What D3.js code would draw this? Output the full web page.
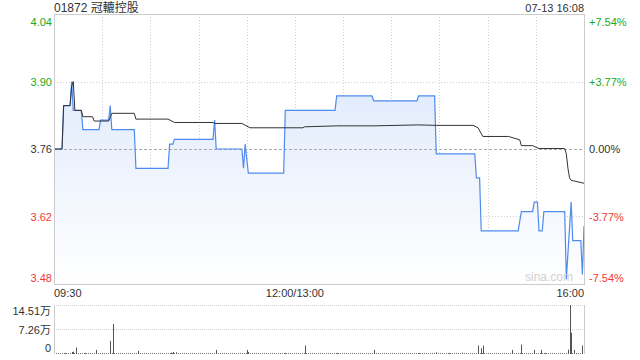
<!DOCTYPE html>
<html>
<head>
<meta charset="utf-8">
<script src="https://cdn.jsdelivr.net/npm/d3@7"></script>
<style>
  body { margin: 0; background: #fff; }
  svg { display: block; font-family: "Liberation Sans", Arial, "Noto Sans CJK SC", sans-serif; }
</style>
</head>
<body>
<div id="chart-area"></div>
<script>
// price points (time, price)
var priceTimes = ["09:30","09:35","09:36","09:40","09:41","09:42","09:47","09:48","09:58","09:59",
  "10:04","10:05","10:06","10:20","10:21","10:41","10:42","10:44","10:45","11:09",
  "11:10","11:11","11:27","11:28","11:29","11:31","11:53","11:54","13:25","13:26",
  "13:48","13:49","14:16","14:17","14:27","14:28","14:52","14:53","14:55","14:56",
  "15:19","15:21","15:28","15:29","15:31","15:32","15:34","15:35","15:48","15:49",
  "15:52","15:53","15:58","15:59","16:00"];
var priceValues = [3.76,3.76,3.85,3.85,3.90,3.84,3.84,3.80,3.80,3.82,
  3.82,3.85,3.80,3.80,3.72,3.72,3.77,3.77,3.78,3.78,
  3.82,3.76,3.76,3.72,3.77,3.71,3.71,3.84,3.84,3.87,
  3.87,3.86,3.86,3.87,3.87,3.75,3.75,3.70,3.70,3.59,
  3.59,3.63,3.63,3.65,3.65,3.59,3.59,3.63,3.63,3.49,
  3.65,3.57,3.57,3.50,3.60];

// average price line
var avgTimes = ["09:30","09:35","09:36","09:40","09:41","09:42","09:43","09:47","09:48","09:54",
  "09:55","10:04","10:06","10:20","10:21","10:41","10:45","11:09","11:10","11:27",
  "11:32","13:05","13:06","13:26","13:49","14:17","14:28","14:51","14:54","14:57",
  "15:13","15:20","15:21","15:28","15:32","15:48","15:49","15:50","15:51","15:52","16:00"];
var avgValues = [3.76,3.76,3.85,3.85,3.89,3.90,3.84,3.84,3.827,3.827,
  3.818,3.818,3.834,3.834,3.822,3.822,3.815,3.815,3.813,3.813,
  3.804,3.804,3.806,3.808,3.808,3.81,3.809,3.809,3.804,3.786,
  3.786,3.779,3.767,3.767,3.761,3.761,3.75,3.72,3.70,3.695,3.689];

// volume (万)
var volTimes = ["09:37","09:41","09:42","09:44","09:49","09:56","10:00","10:05","10:07","10:22",
  "10:43","10:44","10:46","11:11","11:30","11:31","11:54","13:06","13:26","13:49",
  "14:17","14:28","14:36","14:44","14:54","14:56","14:57","15:15","15:21","15:29",
  "15:33","15:36","15:50","15:51","15:52","15:54","15:55","15:59"];
var volValues = [0.3,0.6,0.7,1.9,0.3,1.2,0.3,3.9,8.9,0.9,
  0.4,0.6,0.5,1.2,1.2,0.6,0.3,2.5,0.3,1.2,
  0.3,0.5,0.3,0.4,2.5,1.7,2.5,1.2,2.8,1.2,
  1.2,0.3,1.3,14.51,6.3,1.2,0.3,2.5];

var priceTicks = [3.48, 3.62, 3.76, 3.90, 4.04];
var pctLabels = ["-7.54%", "-3.77%", "0.00%", "+3.77%", "+7.54%"];
var volTicks = [0, 7.26, 14.51];
var volLabels = ["0", "7.26万", "14.51万"];
var timeTicks = [0, 150, 330];
var timeLabels = ["09:30", "12:00/13:00", "16:00"];
var prevClose = 3.76;

var width = 640, height = 360;
var plotLeft = 54, plotRight = 584, plotTop = 14, plotBottom = 284;
var vTop = 305, vBottom = 354;

var green = "#22a822", red = "#f03a3a";

function idx(t) {
  var p = t.split(":");
  var mins = (+p[0]) * 60 + (+p[1]);
  return mins <= 720 ? mins - 570 : mins - 780 + 150;
}

var svg = d3.select("#chart-area")
  .append("svg")
    .attr("width", width)
    .attr("height", height);

var x = d3.scaleLinear().domain([0, 330]).range([plotLeft, plotRight]);
var y = d3.scaleLinear().domain([3.48, 4.04]).range([plotBottom, plotTop]);
var yv = d3.scaleLinear().domain([0, 14.51]).range([vBottom, vTop]);

var price = priceTimes.map(function(t, i) { return {m: idx(t), v: priceValues[i]}; });
var avg = avgTimes.map(function(t, i) { return {m: idx(t), v: avgValues[i]}; });

// gradient
var grad = svg.append("defs").append("linearGradient")
  .attr("id", "fillGrad")
  .attr("gradientUnits", "userSpaceOnUse")
  .attr("x1", 0).attr("y1", plotTop).attr("x2", 0).attr("y2", plotBottom);
grad.append("stop").attr("offset", "0%").attr("stop-color", "#d7e4fb");
grad.append("stop").attr("offset", "100%").attr("stop-color", "#ffffff");

// vertical grid
var vgrid = d3.range(30, 330, 30);
svg.selectAll(".vgrid").data(vgrid).enter().append("line")
  .attr("x1", function(d) { return Math.round(x(d)) + 0.5; })
  .attr("x2", function(d) { return Math.round(x(d)) + 0.5; })
  .attr("y1", plotTop).attr("y2", plotBottom)
  .attr("stroke", "#cfcfcf")
  .attr("stroke-dasharray", "1,2");

// horizontal grid
svg.selectAll(".hgrid").data([3.62, 3.90]).enter().append("line")
  .attr("x1", plotLeft).attr("x2", plotRight)
  .attr("y1", function(d) { return Math.round(y(d)) + 0.5; })
  .attr("y2", function(d) { return Math.round(y(d)) + 0.5; })
  .attr("stroke", "#cfcfcf")
  .attr("stroke-dasharray", "1,2");

// area + lines
svg.append("path")
  .datum(price)
  .attr("fill", "url(#fillGrad)")
  .attr("d", d3.area()
    .x(function(d) { return x(d.m); })
    .y0(plotBottom)
    .y1(function(d) { return y(d.v); }));

svg.append("line")
  .attr("x1", plotLeft).attr("x2", plotRight)
  .attr("y1", Math.round(y(prevClose)) + 0.5)
  .attr("y2", Math.round(y(prevClose)) + 0.5)
  .attr("stroke", "#aaaaaa")
  .attr("stroke-dasharray", "3,2");

svg.append("path")
  .datum(price)
  .attr("fill", "none")
  .attr("stroke", "#4f8bef")
  .attr("stroke-width", 1.2)
  .attr("d", d3.line().x(function(d) { return x(d.m); }).y(function(d) { return y(d.v); }));

svg.append("path")
  .datum(avg)
  .attr("fill", "none")
  .attr("stroke", "#333")
  .attr("stroke-width", 1)
  .attr("d", d3.line().x(function(d) { return x(d.m); }).y(function(d) { return y(d.v); }));

// frame
svg.append("rect")
  .attr("x", plotLeft + 0.5).attr("y", plotTop + 0.5)
  .attr("width", plotRight - plotLeft).attr("height", plotBottom - plotTop)
  .attr("fill", "none")
  .attr("stroke", "#cccccc");

// watermark
svg.append("text")
  .attr("x", 573).attr("y", 281)
  .attr("text-anchor", "end")
  .attr("font-size", "12px")
  .attr("fill", "#d0d0d0")
  .text("sina.com");

// left axis labels
var yAxisG = svg.append("g")
  .attr("transform", "translate(" + (plotLeft - 2) + ",0)")
  .call(d3.axisLeft(y).tickValues(priceTicks).tickSize(0).tickPadding(0)
    .tickFormat(d3.format(".2f")));
yAxisG.select(".domain").remove();
yAxisG.selectAll("text")
  .attr("font-size", "11px")
  .attr("font-family", "Liberation Sans, Arial, sans-serif")
  .attr("fill", function(d) { return d > prevClose ? green : d < prevClose ? red : "#333"; })
  .attr("dy", function(d) { return d === 4.04 ? "1.0em" : d === 3.48 ? "-0.25em" : "0.32em"; });

// right axis labels
var yAxisR = svg.append("g")
  .attr("transform", "translate(" + (plotRight + 5) + ",0)")
  .call(d3.axisRight(y).tickValues(priceTicks).tickSize(0).tickPadding(0)
    .tickFormat(function(d, i) { return pctLabels[i]; }));
yAxisR.select(".domain").remove();
yAxisR.selectAll("text")
  .attr("font-size", "11px")
  .attr("font-family", "Liberation Sans, Arial, sans-serif")
  .attr("fill", function(d) { return d > prevClose ? green : d < prevClose ? red : "#333"; })
  .attr("dy", function(d) { return d === 4.04 ? "1.0em" : d === 3.48 ? "-0.25em" : "0.32em"; });

// time axis labels
svg.selectAll(".tlabel").data(timeTicks).enter().append("text")
  .attr("x", function(d) { return x(d); })
  .attr("y", 297)
  .attr("text-anchor", function(d, i) { return i === 0 ? "start" : i === 2 ? "end" : "middle"; })
  .attr("font-size", "11px")
  .attr("fill", "#333")
  .text(function(d, i) { return timeLabels[i]; });

// title
svg.append("text")
  .attr("x", plotLeft).attr("y", 12)
  .attr("font-size", "12px")
  .attr("fill", "#333")
  .text("01872 冠轆控股");
svg.append("text")
  .attr("x", plotRight).attr("y", 12)
  .attr("text-anchor", "end")
  .attr("font-size", "11px")
  .attr("fill", "#333")
  .text("07-13 16:08");

// volume panel
svg.selectAll(".vgridv").data([14.51, 7.26]).enter().append("line")
  .attr("x1", plotLeft).attr("x2", plotRight)
  .attr("y1", function(d) { return Math.round(yv(d)) + 0.5; })
  .attr("y2", function(d) { return Math.round(yv(d)) + 0.5; })
  .attr("stroke", "#cfcfcf")
  .attr("stroke-dasharray", "1,1");
svg.append("line")
  .attr("x1", plotLeft).attr("x2", plotRight)
  .attr("y1", vBottom - 0.5).attr("y2", vBottom - 0.5)
  .attr("stroke", "#777")
  .attr("stroke-dasharray", "1,1");
svg.append("line")
  .attr("x1", plotLeft + 0.5).attr("x2", plotLeft + 0.5)
  .attr("y1", vTop).attr("y2", vBottom)
  .attr("stroke", "#cccccc");
svg.append("line")
  .attr("x1", plotRight + 0.5).attr("x2", plotRight + 0.5)
  .attr("y1", vTop).attr("y2", vBottom)
  .attr("stroke", "#cccccc");

svg.selectAll(".vbar").data(volTimes).enter().append("rect")
  .attr("x", function(t) { return Math.round(x(idx(t))); })
  .attr("width", 1)
  .attr("y", function(t, i) { return yv(volValues[i]); })
  .attr("height", function(t, i) { return vBottom - yv(volValues[i]); })
  .attr("fill", "#555");

var vAxis = svg.append("g")
  .attr("transform", "translate(" + (plotLeft - 3) + ",0)")
  .call(d3.axisLeft(yv).tickValues(volTicks).tickSize(0).tickPadding(0)
    .tickFormat(function(d, i) { return volLabels[i]; }));
vAxis.select(".domain").remove();
vAxis.selectAll("text")
  .attr("font-size", "11px")
  .attr("font-family", "Liberation Sans, Arial, \"Noto Sans CJK SC\", sans-serif")
  .attr("fill", "#333")
  .attr("dy", function(d) { return d === 0 ? "-0.2em" : d === 14.51 ? "0.85em" : "0.32em"; });
</script>
</body>
</html>
